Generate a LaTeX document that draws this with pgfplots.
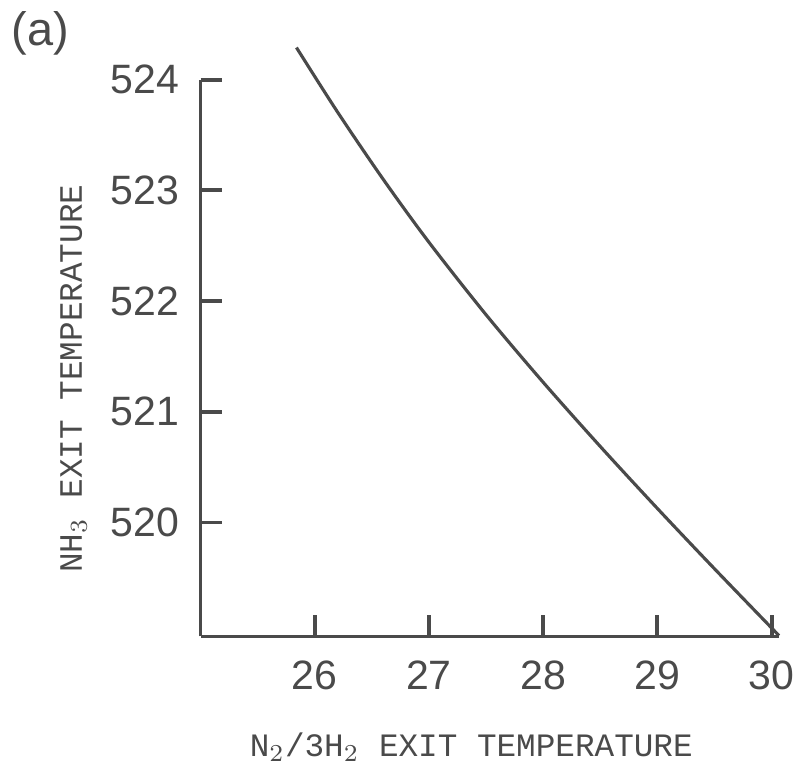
\documentclass[border=0pt]{standalone}
\usepackage{fontspec}
\setmainfont{Liberation Sans}
\setmonofont{Liberation Mono}
\usepackage{pgfplots}
\pgfplotsset{compat=1.18}
\definecolor{ink}{HTML}{4A4A4A}

\begin{document}
\begin{tikzpicture}
\begin{axis}[
    scale only axis, width=58.5mm, height=56.3mm,
    xmin=25, xmax=30.065, ymin=518.97, ymax=524,
    axis lines=left, axis line style={-, ink, line width=1.1pt},
    clip=false,
    xtick={26,27,28,29,30}, ytick={520,521,522,523,524},
    tick align=inside, major tick length=2.2mm,
    tick style={ink, line width=1.1pt},
    /pgf/number format/assume math mode=true,
    /pgf/number format/1000 sep={},
    ticklabel style={font=\fontsize{11.8}{13}\selectfont, text=ink},
    xticklabel style={yshift=-1.2mm},
    yticklabel style={xshift=-0.9mm},
    xlabel={N$_2$/3H$_2$ EXIT TEMPERATURE},
    ylabel={NH$_3$ EXIT TEMPERATURE},
    label style={font=\ttfamily\fontsize{9.4}{11}\selectfont, text=ink},
    xlabel style={at={(axis description cs:0.468,-0.215)}, anchor=base},
    ylabel style={at={(axis description cs:-0.205,0.463)}, anchor=base, rotate=0},
]
% NH3 exit temperature vs N2/3H2 exit temperature
\addplot[ink, line width=0.9pt, smooth] coordinates {
    (25.84,524.29) (26.2,523.707) (26.6,523.099) (27.0,522.531) (27.5,521.876)
    (28.0,521.266) (28.5,520.686) (29.0,520.126) (29.5,519.581) (30.065,518.977)
};
\node[font=\fontsize{13.5}{15}\selectfont, text=ink] at (axis description cs:-0.277,1.083) {(a)};
\end{axis}
\path (current axis.south west) ++(-20mm,-14.6mm) rectangle ++(80.6mm,78.6mm);
\end{tikzpicture}
\end{document}
